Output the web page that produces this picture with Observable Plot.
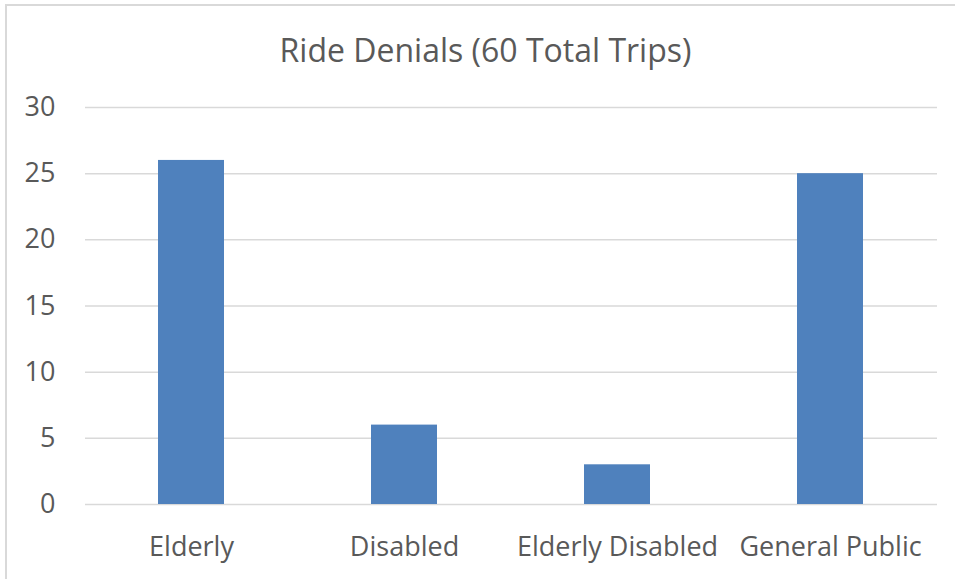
<!DOCTYPE html>
<html>
<head>
<meta charset="utf-8">
<script src="https://cdn.jsdelivr.net/npm/d3@7"></script>
<script src="https://cdn.jsdelivr.net/npm/@observablehq/plot@0.6"></script>
<style>
  html, body { margin: 0; padding: 0; background: #fff; }
  #wrap { position: relative; width: 955px; height: 579px; overflow: hidden; font-family: "Open Sans", sans-serif; }
  #border { position: absolute; left: 5px; top: 4px; width: 960px; height: 600px; border: 2px solid #d9d9d9; box-sizing: border-box; }
  #title { position: absolute; left: 8px; width: 955px; top: 30px; text-align: center; font-size: 32px; color: #595959; line-height: 40px; }
  #chart { position: absolute; left: 0; top: 0; }
</style>
</head>
<body>
<div id="wrap">
  <div id="border"></div>
  <div id="chart"></div>
  <div id="title">Ride Denials (60 Total Trips)</div>
</div>
<script>
const categories = ["Elderly", "Disabled", "Elderly Disabled", "General Public"];
const values = [26, 6, 3, 25];
const yTicks = [0, 5, 10, 15, 20, 25, 30];

const data = categories.map((c, i) => ({category: c, value: values[i]}));

const chart = Plot.plot({
  width: 955,
  height: 579,
  marginTop: 107,
  marginBottom: 75,
  marginLeft: 85,
  marginRight: 18,
  style: {fontFamily: "'Open Sans', sans-serif", fontSize: "27px", color: "#595959", background: "transparent"},
  x: {domain: categories, paddingInner: 0.69, paddingOuter: 0.345, label: null},
  y: {domain: [0, 30], label: null},
  marks: [
    Plot.ruleY(yTicks, {stroke: "#d9d9d9", strokeWidth: 1.5}),
    Plot.barY(data, {x: "category", y: "value", fill: "#4f81bd"}),
    Plot.axisY({ticks: yTicks, tickSize: 0, tickPadding: 30, fontSize: 27, label: null}),
    Plot.axisX({tickSize: 0, tickPadding: 32, fontSize: 27, label: null})
  ]
});
document.getElementById("chart").appendChild(chart);
</script>
</body>
</html>
